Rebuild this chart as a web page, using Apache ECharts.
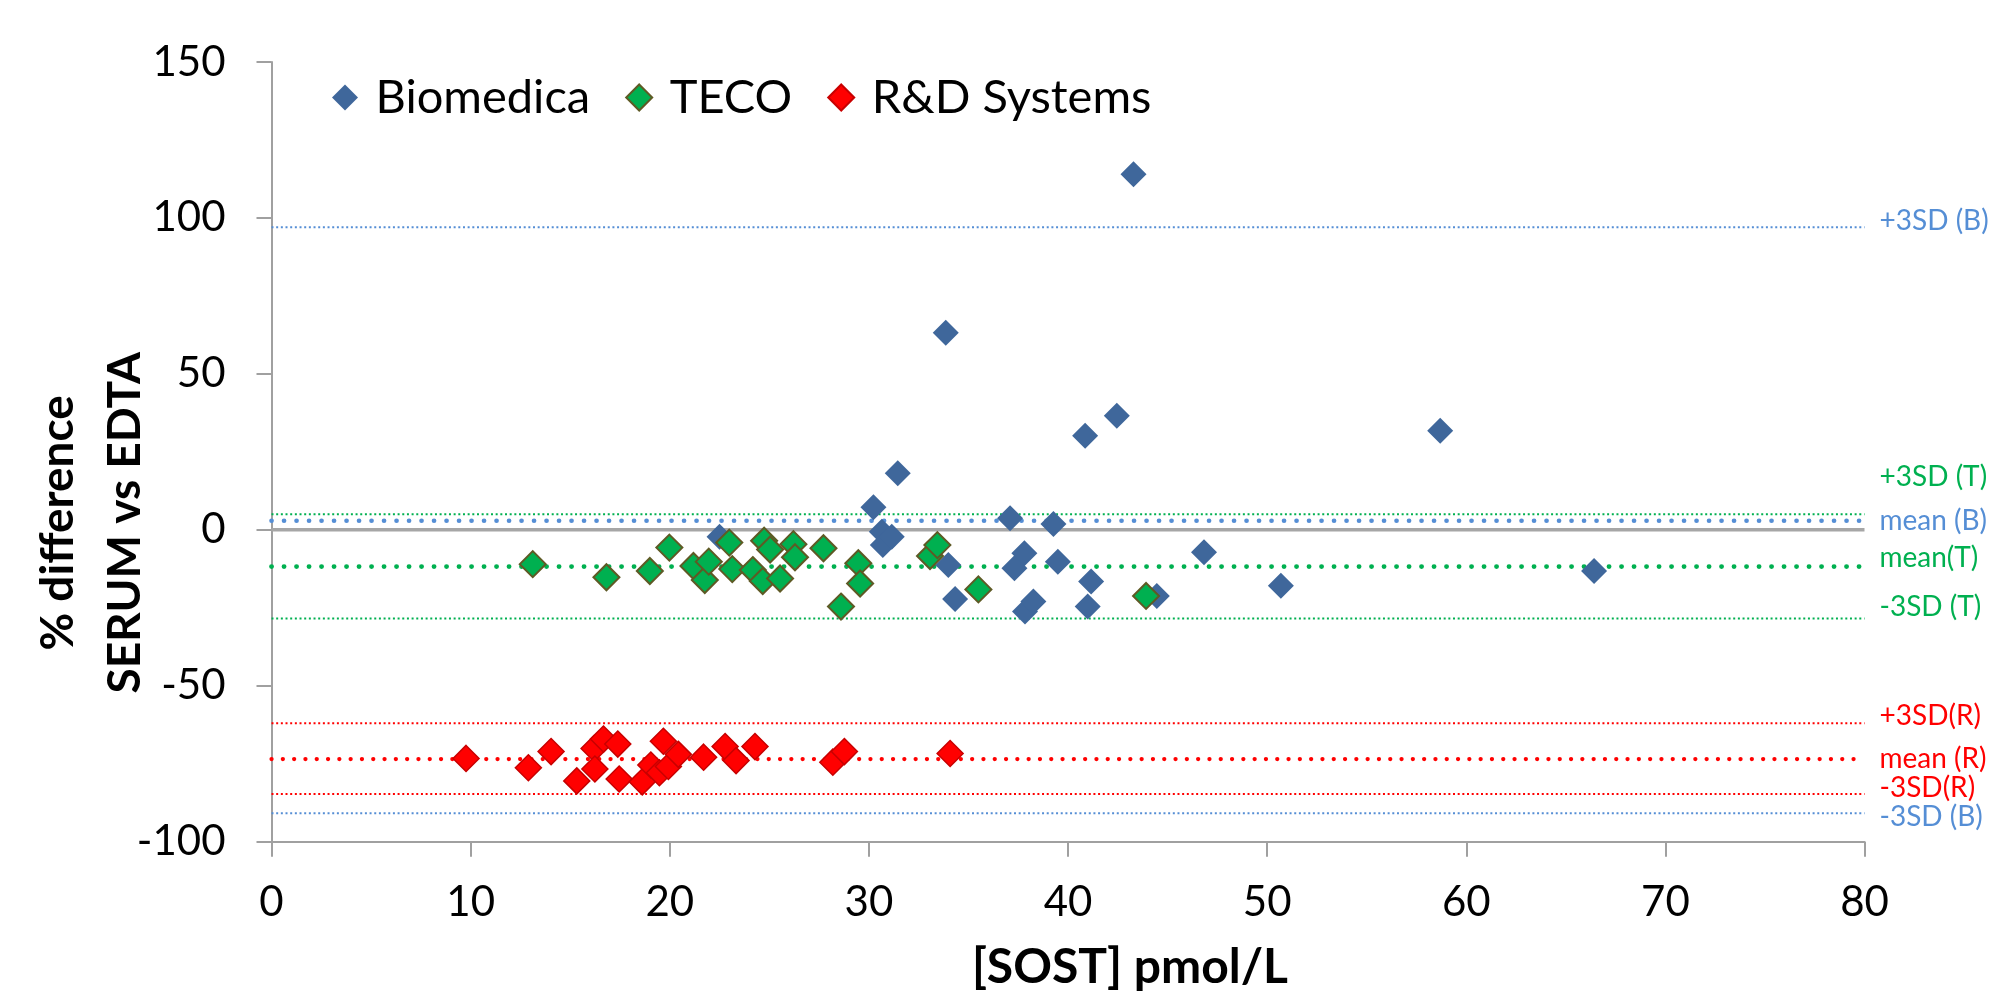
<!DOCTYPE html>
<html>
<head>
<meta charset="utf-8">
<script src="https://cdn.jsdelivr.net/npm/echarts@6/dist/echarts.min.js"></script>
<style>
html,body{margin:0;padding:0;background:#fff;}
#chart{width:2012px;height:1001px;}
</style>
</head>
<body>
<div id="chart"></div>
<script>
// ---------- data ----------
const xAxisMin = 0, xAxisMax = 80, xAxisStep = 10;
const yAxisMin = -100, yAxisMax = 150, yAxisStep = 50;

const seriesNames = ['Biomedica', 'TECO', 'R&D Systems'];

const bioX = [22.5, 30.23, 30.65, 30.7, 31.15, 31.45, 33.86, 33.99, 34.33, 37.09, 37.31, 37.81, 37.84, 38.26, 39.27, 39.49, 40.86, 40.99, 41.16, 42.45, 43.29, 44.46, 46.83, 50.69, 58.69, 66.42];
const bioY = [-2.2, 7.2, -0.6, -4.9, -2.2, 18.1, 63.2, -11.3, -22.2, 3.7, -12.3, -7.5, -26.2, -23.0, 1.9, -10.2, 30.2, -24.6, -16.6, 36.6, 114.0, -21.2, -7.2, -17.9, 31.8, -13.2];

const tecoX = [13.12, 16.82, 19.0, 19.98, 21.19, 21.76, 21.96, 22.99, 23.14, 24.17, 24.67, 24.74, 25.04, 25.54, 26.21, 26.29, 27.72, 28.6, 29.47, 29.56, 33.07, 33.44, 35.5, 43.92];
const tecoY = [-11.0, -15.2, -13.2, -5.7, -11.6, -16.1, -10.2, -4.1, -12.6, -12.9, -16.4, -3.5, -6.3, -15.6, -4.6, -8.8, -5.9, -24.6, -10.7, -17.2, -8.4, -4.9, -19.1, -21.2];

const rdX = [9.77, 12.9, 14.04, 15.33, 16.2, 16.24, 16.67, 17.39, 17.46, 18.62, 19.05, 19.48, 19.68, 19.93, 20.43, 21.7, 22.78, 23.33, 24.28, 28.19, 28.77, 34.08];
const rdY = [-73.3, -76.3, -71.1, -80.5, -70.1, -76.7, -67.1, -68.7, -79.9, -80.8, -75.4, -77.9, -67.8, -75.9, -72.0, -72.9, -69.5, -74.0, -69.5, -74.5, -71.1, -71.7];

const refNames  = ['+3SD (B)', 'mean (B)', '-3SD (B)', '+3SD (T)', 'mean(T)', '-3SD (T)', '+3SD(R)', 'mean (R)', '-3SD(R)'];
const refValues = [97.0, 2.9, -90.9, 5.0, -11.8, -28.4, -62.0, -73.5, -84.7];
const zeroValue = 0;

// ---------- styles ----------
const FONT = 'Lato';
const C_BLUE_PT = '#3F679B', C_GREEN_PT = '#00B050', C_RED_PT = '#FF0000';
const C_BLUE_LN = '#558ED5', C_GREEN_LN = '#00B050', C_RED_LN = '#FF0000';
const SD_DASH = [2, 2.67];
const MEAN_DASH = [0.1, 12.4];
const refStyles = [
  {color: C_BLUE_LN,  width: 2,   dash: SD_DASH,   cap: 'butt',  dy: -6},
  {color: C_BLUE_LN,  width: 4.6, dash: MEAN_DASH, cap: 'round', dy: 0},
  {color: C_BLUE_LN,  width: 2,   dash: SD_DASH,   cap: 'butt',  dy: 4},
  {color: C_GREEN_LN, width: 2,   dash: SD_DASH,   cap: 'butt',  dy: -37},
  {color: C_GREEN_LN, width: 4.8, dash: MEAN_DASH, cap: 'round', dy: -9},
  {color: C_GREEN_LN, width: 2,   dash: SD_DASH,   cap: 'butt',  dy: -11},
  {color: C_RED_LN,   width: 2,   dash: SD_DASH,   cap: 'butt',  dy: -7},
  {color: C_RED_LN,   width: 4.2, dash: [0.1, 11.2], cap: 'round', dy: 0},
  {color: C_RED_LN,   width: 2,   dash: SD_DASH,   cap: 'butt',  dy: -6}
];

function zip(xs, ys) { return xs.map((x, i) => [x, ys[i]]); }

const refSeries = refValues.map((v, i) => {
  const s = refStyles[i];
  return {
    type: 'line',
    name: refNames[i],
    silent: true,
    z: 1,
    symbol: 'circle',
    symbolSize: 2,
    showSymbol: true,
    showAllSymbol: true,
    itemStyle: {color: 'rgba(0,0,0,0)'},
    lineStyle: {color: s.color, width: s.width, type: s.dash, cap: s.cap},
    emphasis: {disabled: true},
    data: [
      {value: [xAxisMin, v], label: {show: false}},
      {value: [xAxisMax, v], label: {
        show: true, position: 'right', distance: 14, offset: [0, s.dy],
        formatter: refNames[i], color: s.color, fontSize: 28, fontFamily: FONT
      }}
    ]
  };
});

const zeroSeries = {
  type: 'line', name: 'zero', silent: true, z: 1, symbol: 'none',
  lineStyle: {color: '#A6A6A6', width: 3.5, cap: 'butt'},
  emphasis: {disabled: true},
  data: [[xAxisMin, zeroValue], [xAxisMax, zeroValue]]
};

function scatter(name, data, fill, border, bw) {
  return {
    type: 'scatter', name: name, z: 3, symbol: 'diamond', symbolSize: 26,
    itemStyle: {color: fill, borderColor: border, borderWidth: bw, opacity: 1},
    emphasis: {disabled: true},
    data: data
  };
}

const chart = echarts.init(document.getElementById('chart'), null, {renderer: 'canvas'});
chart.setOption({
  animation: false,
  backgroundColor: '#ffffff',
  textStyle: {fontFamily: FONT},
  grid: {left: 271.5, right: 147.5, top: 62, bottom: 159.3, containLabel: false, outerBoundsMode: 'none'},
  legend: {
    data: seriesNames,
    left: 327, top: 69,
    itemWidth: 26, itemHeight: 26, itemGap: 35,
    textStyle: {fontSize: 47, fontFamily: FONT, color: '#000', padding: [0, 0, 0, 12.5]},
    selectedMode: false
  },
  xAxis: {
    type: 'value', min: xAxisMin, max: xAxisMax, interval: xAxisStep,
    name: '[SOST] pmol/L', nameLocation: 'middle', nameGap: 100, nameMoveOverlap: false,
    nameTextStyle: {fontSize: 48, fontWeight: 'bold', color: '#000', fontFamily: FONT, lineHeight: 52, padding: [0, 0, 0, 124]},
    axisLine: {onZero: false, lineStyle: {color: '#A0A0A0', width: 2}},
    axisTick: {show: true, length: 15, lineStyle: {color: '#A0A0A0', width: 2}},
    axisLabel: {fontSize: 42, color: '#000', margin: 40, fontFamily: FONT},
    splitLine: {show: false}
  },
  yAxis: {
    type: 'value', min: yAxisMin, max: yAxisMax, interval: yAxisStep,
    name: '% difference\nSERUM vs EDTA', nameLocation: 'middle', nameGap: 113, nameMoveOverlap: false,
    nameTextStyle: {fontSize: 46, fontWeight: 'bold', color: '#000', fontFamily: FONT, lineHeight: 67, padding: [0, 142, 0, 0]},
    axisLine: {show: true, onZero: false, lineStyle: {color: '#A0A0A0', width: 2}},
    axisTick: {show: true, length: 15, lineStyle: {color: '#A0A0A0', width: 2}},
    axisLabel: {fontSize: 42, color: '#000', margin: 46, fontFamily: FONT},
    splitLine: {show: false}
  },
  series: [].concat(refSeries, [zeroSeries,
    scatter(seriesNames[0], zip(bioX, bioY), C_BLUE_PT, C_BLUE_PT, 0),
    scatter(seriesNames[1], zip(tecoX, tecoY), C_GREEN_PT, '#5E5A25', 2),
    scatter(seriesNames[2], zip(rdX, rdY), C_RED_PT, '#C80000', 1.5)
  ])
});
</script>
</body>
</html>
